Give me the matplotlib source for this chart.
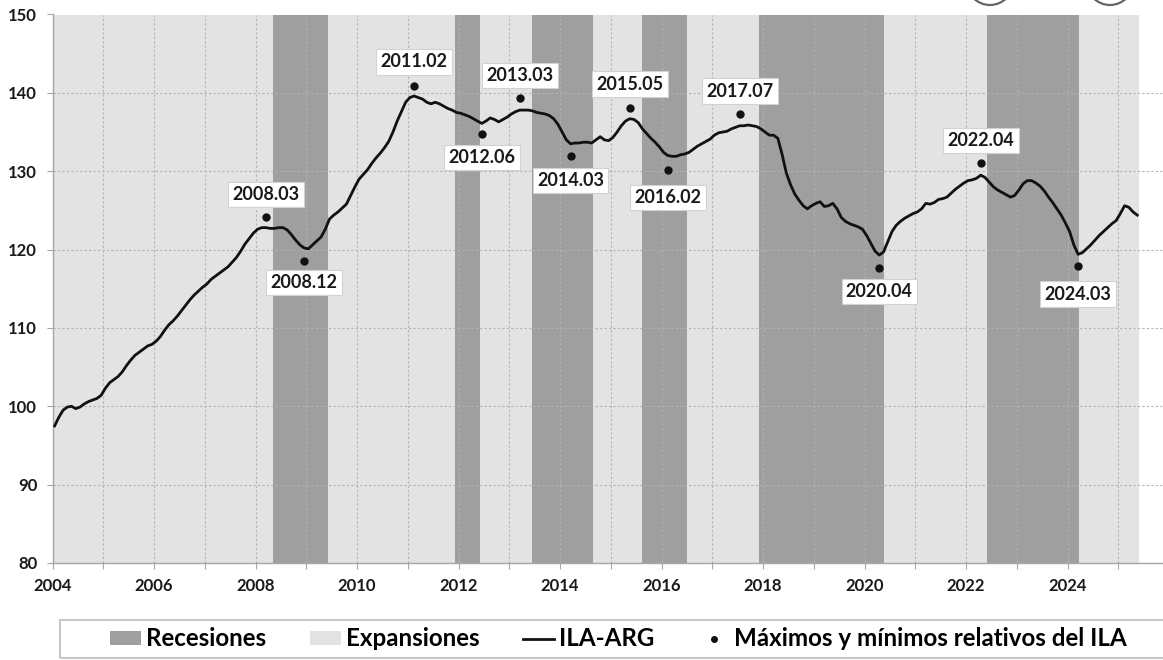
import matplotlib
matplotlib.use("Agg")
import matplotlib.pyplot as plt
from matplotlib.patches import Patch, Rectangle, Ellipse
from matplotlib.lines import Line2D
import numpy as np

plt.rcParams['font.family'] = ['Lato', 'DejaVu Sans']
plt.rcParams['font.weight'] = 'bold'

# ---------------- data ----------------
start_year = 2004
ila_2004 = [97.5, 98.6, 99.5, 99.9, 100.0, 99.7, 99.9, 100.3, 100.6, 100.8, 101.0, 101.4]
ila_2005 = [102.3, 103.0, 103.4, 103.8, 104.4, 105.2, 105.9, 106.5, 106.9, 107.3, 107.7, 107.9]
ila_2006 = [108.3, 108.9, 109.7, 110.4, 110.9, 111.5, 112.2, 112.9, 113.6, 114.2, 114.7, 115.2]
ila_2007 = [115.6, 116.2, 116.6, 117.0, 117.4, 117.8, 118.4, 119.0, 119.8, 120.7, 121.4, 122.1]
ila_2008 = [122.6, 122.8, 122.8, 122.7, 122.7, 122.8, 122.8, 122.5, 121.9, 121.2, 120.6, 120.2]
ila_2009 = [120.1, 120.6, 121.1, 121.6, 122.6, 123.9, 124.4, 124.8, 125.3, 125.8, 126.9, 128.0]
ila_2010 = [129.0, 129.6, 130.2, 131.0, 131.7, 132.3, 133.0, 133.8, 135.0, 136.4, 137.6, 138.8]
ila_2011 = [139.4, 139.6, 139.4, 139.2, 138.8, 138.6, 138.8, 138.6, 138.3, 138.0, 137.8, 137.5]
ila_2012 = [137.4, 137.2, 137.0, 136.7, 136.4, 136.1, 136.4, 136.8, 136.6, 136.3, 136.6, 136.9]
ila_2013 = [137.3, 137.6, 137.8, 137.8, 137.8, 137.7, 137.5, 137.4, 137.3, 137.1, 136.7, 136.0]
ila_2014 = [135.0, 134.0, 133.5, 133.6, 133.6, 133.7, 133.7, 133.6, 134.0, 134.4, 134.0, 133.9]
ila_2015 = [134.3, 135.0, 135.8, 136.4, 136.7, 136.6, 136.2, 135.4, 134.8, 134.2, 133.7, 133.1]
ila_2016 = [132.4, 132.0, 131.9, 131.9, 132.1, 132.2, 132.4, 132.8, 133.2, 133.5, 133.8, 134.1]
ila_2017 = [134.6, 134.9, 135.0, 135.1, 135.4, 135.6, 135.8, 135.8, 135.9, 135.8, 135.7, 135.4]
ila_2018 = [135.0, 134.6, 134.6, 134.2, 132.2, 129.8, 128.3, 127.1, 126.3, 125.6, 125.2, 125.6]
ila_2019 = [125.9, 126.1, 125.5, 125.6, 125.9, 125.2, 124.1, 123.6, 123.3, 123.1, 122.9, 122.6]
ila_2020 = [121.8, 120.8, 119.8, 119.3, 119.7, 121.0, 122.3, 123.1, 123.6, 124.0, 124.3, 124.6]
ila_2021 = [124.8, 125.2, 125.9, 125.8, 126.0, 126.4, 126.5, 126.7, 127.2, 127.7, 128.1, 128.5]
ila_2022 = [128.8, 128.9, 129.1, 129.5, 129.2, 128.6, 128.0, 127.6, 127.3, 127.0, 126.7, 126.9]
ila_2023 = [127.6, 128.4, 128.8, 128.8, 128.5, 128.1, 127.5, 126.7, 126.0, 125.2, 124.4, 123.4]
ila_2024 = [122.3, 120.6, 119.4, 119.6, 120.1, 120.6, 121.2, 121.8, 122.3, 122.8, 123.3, 123.7]
ila_2025 = [124.6, 125.6, 125.4, 124.8, 124.4]

ila = (ila_2004 + ila_2005 + ila_2006 + ila_2007 + ila_2008 + ila_2009 + ila_2010
       + ila_2011 + ila_2012 + ila_2013 + ila_2014 + ila_2015 + ila_2016 + ila_2017
       + ila_2018 + ila_2019 + ila_2020 + ila_2021 + ila_2022 + ila_2023 + ila_2024
       + ila_2025)

recession_start = [2008.35, 2011.93, 2013.44, 2015.61, 2017.93, 2022.41]
recession_end = [2009.43, 2012.42, 2014.66, 2016.51, 2020.39, 2024.23]
expansion_start = 2004.0
expansion_end = 2025.40

turning_labels = ["2008.03", "2008.12", "2011.02", "2012.06", "2013.03", "2014.03",
                  "2015.05", "2016.02", "2017.07", "2020.04", "2022.04", "2024.03"]
turning_values = [124.2, 118.6, 140.9, 134.7, 139.3, 132.0,
                  138.1, 130.2, 137.3, 117.7, 131.0, 117.9]

x_tick_years = list(range(2004, 2026))
y_ticks = [80, 90, 100, 110, 120, 130, 140, 150]

legend_labels = ["Recesiones", "Expansiones", "ILA-ARG", "Máximos y mínimos relativos del ILA"]

# ---------------- styling ----------------
C_REC = '#9f9f9f'
C_EXP = '#e3e3e3'
C_LINE = '#111111'
label_offsets = [22, -22, 24, -23, 23, -25, 23.5, -28, 23, -24, 23, -28]

W, H = 1163, 660
fig = plt.figure(figsize=(W / 100, H / 100), dpi=100)
x0_px, y_top_px, y_bot_px = 52.5, 14.5, 563
px_per_year = 50.75
ax = fig.add_axes([x0_px / W, 1 - y_bot_px / H, (W - x0_px) / W, (y_bot_px - y_top_px) / H])
ax.set_xlim(2004, 2004 + (W - x0_px) / px_per_year)
ax.set_ylim(80, 150)

ax.axvspan(expansion_start, expansion_end, color=C_EXP, lw=0, zorder=0.1)
for s, e in zip(recession_start, recession_end):
    ax.axvspan(s, e, color=C_REC, lw=0, zorder=0.2)

ax.set_axisbelow(True)
ax.grid(True, linestyle=(0, (2, 2)), color='#b3b3b3', linewidth=0.8)

t = start_year + (np.arange(len(ila)) + 0.5) / 12.0
ax.plot(t, ila, color=C_LINE, lw=2.0, zorder=3, solid_joinstyle='round')

dot_t = [int(s.split('.')[0]) + (int(s.split('.')[1]) - 0.5) / 12.0 for s in turning_labels]
ax.plot(dot_t, turning_values, ls='none', marker='o', ms=5, color=C_LINE, zorder=4)

for lab, dt, dv, off in zip(turning_labels, dot_t, turning_values, label_offsets):
    ax.annotate(lab, (dt, dv), xytext=(0, off), textcoords='offset pixels',
                ha='center', va='center', fontsize=13, fontweight='bold', color='#1a1a1a',
                bbox=dict(boxstyle='square,pad=0.24', fc='white', ec='#d2d2d2', lw=0.8),
                zorder=5)

ax.set_xticks(x_tick_years)
ax.set_xticklabels([str(y) if y % 2 == 0 else '' for y in x_tick_years])
ax.set_yticks(y_ticks)
ax.set_yticklabels([str(v) for v in y_ticks])
ax.tick_params(axis='both', direction='out', length=4, width=0.8, color='#a6a6a6',
               labelsize=12, labelcolor='#1a1a1a', pad=7)
for side in ['top', 'right']:
    ax.spines[side].set_visible(False)
for side in ['left', 'bottom']:
    ax.spines[side].set_color('#a6a6a6')
    ax.spines[side].set_linewidth(1.0)

# legend
handles = [Patch(fc=C_REC, ec='none'), Patch(fc=C_EXP, ec='none'),
           Line2D([], [], color=C_LINE, lw=2),
           Line2D([], [], ls='none', marker='o', ms=4, color=C_LINE)]
fig.legend(handles, legend_labels, loc='center', bbox_to_anchor=(618.5 / W, 1 - 639 / H),
           ncol=4, frameon=False, handlelength=1.3, handleheight=0.55,
           handletextpad=0.2, columnspacing=1.8,
           prop={'family': ['Lato', 'DejaVu Sans'], 'weight': 'bold', 'size': 17.4})
fig.add_artist(Rectangle((60 / W, 2 / H), (1177 - 60) / W, 38 / H, transform=fig.transFigure,
                         fill=False, ec='#c8c8c8', lw=1.5, clip_on=False))

# partially visible logos at the top edge
for cx in [990, 1110]:
    fig.add_artist(Ellipse((cx / W, 1 + 20 / H), 48 / W, 50 / H, transform=fig.transFigure,
                           fill=False, ec='#666666', lw=1.6, clip_on=False))

fig.savefig('out.png', dpi=100)
